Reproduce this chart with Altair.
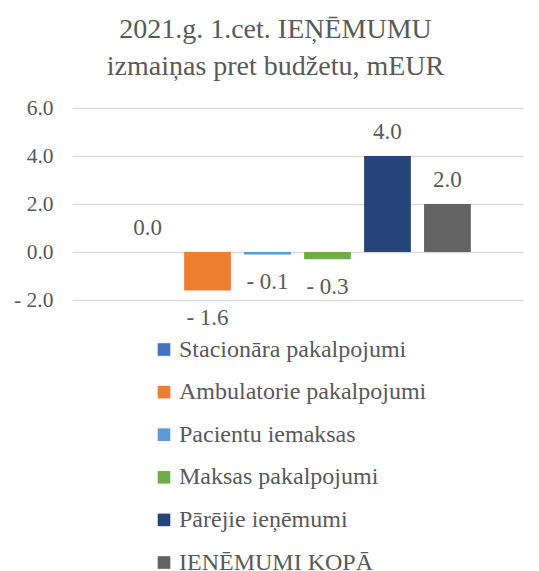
import altair as alt
import pandas as pd

series = ["Stacionāra pakalpojumi", "Ambulatorie pakalpojumi", "Pacientu iemaksas",
          "Maksas pakalpojumi", "Pārējie ieņēmumi", "IEŅĒMUMI KOPĀ"]
values = [0.0, -1.6, -0.1, -0.3, 4.0, 2.0]
colors = ["#4472C4", "#ED7D31", "#5B9BD5", "#70AD47", "#264478", "#636363"]
y_ticks = [-2, 0, 2, 4, 6]

df = pd.DataFrame({"series": series, "value": values})

FONT = "Liberation Serif"
TXT = "#595959"

label_expr = "datum.value < 0 ? '- ' + format(-datum.value, '.1f') : format(datum.value, '.1f')"

x = alt.X("series:N", sort=series, axis=None,
          scale=alt.Scale(paddingInner=0.22, paddingOuter=0.87))
y = alt.Y("value:Q", scale=alt.Scale(domain=[-2, 6], nice=False),
          axis=alt.Axis(values=y_ticks, title=None, domain=False, ticks=False,
                        labelExpr=label_expr, labelFont=FONT, labelFontSize=21.5,
                        labelColor=TXT, labelPadding=19, gridColor="#D9D9D9",
                        gridWidth=1.3))

bars = alt.Chart(df).mark_bar().encode(
    x=x, y=y,
    color=alt.Color("series:N", sort=series,
                    scale=alt.Scale(domain=series, range=colors),
                    legend=alt.Legend(title=None, orient="none", legendX=80, legendY=229.5,
                                      direction="vertical", symbolType="square",
                                      symbolSize=160, symbolStrokeWidth=0,
                                      labelFont=FONT, labelFontSize=24, labelColor=TXT,
                                      labelLimit=400, rowPadding=18.6, labelOffset=3)),
)

base_text = alt.Chart(df).transform_calculate(
    lbl="datum.value < 0 ? '- ' + format(-datum.value, '.1f') : format(datum.value, '.1f')"
)

pos_text = base_text.transform_filter("datum.value >= 0").mark_text(
    font=FONT, fontSize=23, color=TXT, baseline="middle", dy=-24
).encode(x=x, y=y, text="lbl:N")

neg_text = base_text.transform_filter("datum.value < 0").mark_text(
    font=FONT, fontSize=23, color=TXT, baseline="middle", dy=28
).encode(x=x, y=y, text="lbl:N")

chart = alt.layer(bars, pos_text, neg_text).properties(
    width=451, height=192,
    title=alt.TitleParams(["2021.g. 1.cet. IEŅĒMUMU", "izmaiņas pret budžetu, mEUR"],
                          font=FONT, fontSize=28, fontWeight="normal", color=TXT,
                          anchor="middle", dx=-22, offset=16, lineHeight=37),
    autosize=alt.AutoSizeParams(type="none"),
    padding={"left": 64, "top": 100, "right": 8, "bottom": 272},
    background="white",
).configure_view(strokeWidth=0, stroke="transparent")

chart.save("out.html", embed_options={"renderer": "svg", "actions": False})
